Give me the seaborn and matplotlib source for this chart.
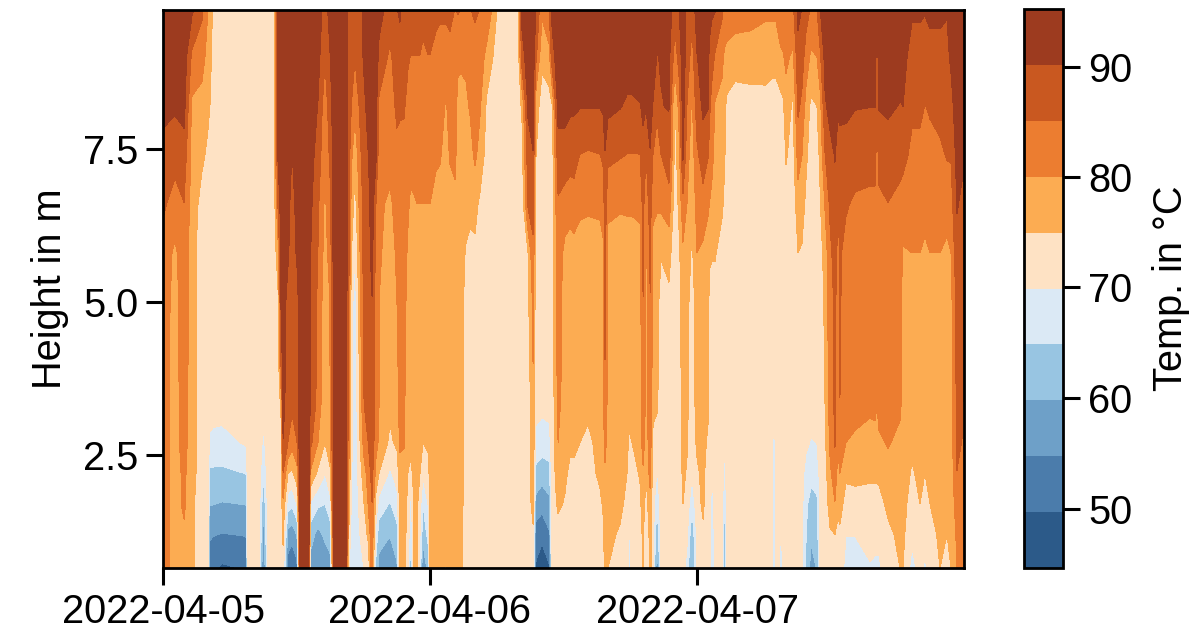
import numpy as np
import pandas as pd
import matplotlib
matplotlib.use('Agg')
import matplotlib.pyplot as plt
import matplotlib.dates as mdates
from matplotlib.colors import ListedColormap
import seaborn as sns

# sensor heights in m, top of the store first
heights = [9.77, 9.0, 8.2, 7.4, 6.6, 5.8, 5.0, 4.0, 3.3, 2.7, 2.2, 1.7, 1.2, 0.65]

# hours after 2022-04-05 00:00
hours = [
    0.00, 1.08, 1.89, 2.61, 3.51, 4.04, 4.22, 4.49, 5.30, 7.46, 7.60, 8.63, 9.03, 9.44, 9.98,
    10.34, 10.61, 10.79, 11.24, 11.60, 12.04, 12.31, 13.12, 13.30, 13.93, 14.56, 15.01, 15.37, 16.45, 16.72,
    16.94, 17.26, 17.71, 18.07, 18.43, 18.79, 19.15, 19.42, 20.40, 21.03, 21.30, 21.66, 22.02, 22.25, 22.56,
    22.83, 23.10, 23.37, 23.82, 24.00, 24.54, 24.90, 25.44, 25.80, 26.25, 26.52, 26.79, 27.24, 27.60, 28.05,
    28.50, 29.12, 29.66, 30.02, 31.91, 32.27, 32.81, 33.26, 33.53, 34.07, 34.70, 34.97, 35.51, 36.13, 36.58,
    36.94, 37.48, 38.20, 39.28, 39.55, 39.73, 40.00, 41.08, 41.71, 41.89, 42.16, 42.88, 43.15, 43.42, 43.78,
    44.05, 44.41, 44.76, 45.48, 46.02, 46.38, 46.74, 47.10, 47.55, 48.00, 48.54, 48.99, 49.12, 49.35, 49.62,
    50.25, 50.47, 50.70, 51.42, 52.76, 54.11, 54.74, 54.92, 55.10, 55.37, 55.55, 55.73, 56.00, 56.63, 57.08,
    57.44, 57.80, 58.24, 58.78, 59.06, 59.51, 59.96, 60.40, 60.67, 60.85, 61.39, 62.20, 63.55, 64.00, 64.18,
    64.36, 65.17, 66.25, 66.52, 67.33, 68.04, 68.49, 68.94, 69.84, 70.47, 70.83, 71.37, 71.82, 72.00,
]

# one list per time, same order as heights
temps_by_time = [
    [93, 93, 92, 88, 86, 83, 83, 82, 82, 82, 82, 82, 82, 82],
    [93, 93, 91, 87, 83, 79, 78, 78, 78, 78, 78, 78, 78, 78],
    [93, 93, 92, 88, 85, 83, 83, 83, 82, 82, 81, 81, 79, 78],
    [91, 84, 79, 78, 78, 77, 77, 77, 77, 77, 77, 76, 76, 76],
    [86, 82, 78, 76, 73, 72, 72, 72, 72, 72, 72, 72, 72, 72],
    [80, 78, 76, 74, 72, 72, 72, 72, 72, 72, 72, 72, 72, 72],
    [77, 76, 75, 73.5, 72, 72, 72, 72, 72, 69, 64, 60, 55.5, 51],
    [74.5, 74, 73, 72, 72, 72, 72, 72, 72, 68.5, 64, 60, 55, 50.5],
    [72, 72, 72, 72, 72, 72, 72, 72, 72, 68, 64, 59.5, 54.5, 49],
    [72, 72, 72, 72, 72, 72, 72, 72, 72, 70.5, 65, 60, 55, 50],
    [72, 72, 72, 72, 72, 72, 72, 72, 72, 72, 72, 72, 72, 72],
    [72, 72, 72, 72, 72, 72, 72, 72, 72, 72, 72, 72, 72, 72],
    [72, 72, 72, 72, 72, 72, 72, 72, 72, 69, 66, 61, 57, 53],
    [72, 72, 72, 72, 72, 72, 72, 72, 72, 72, 72, 72, 72, 72],
    [72, 72, 72, 72, 72, 72, 72, 72, 72, 72, 72, 72, 72, 72],
    [93, 93, 92.5, 91, 86, 78, 74, 72, 72, 72, 72, 72, 72, 72],
    [93, 93, 93, 93, 93, 92, 91, 86, 76, 73, 72, 72, 72, 72],
    [93, 93, 93, 93, 93, 93, 93, 93, 92, 90, 85, 79, 76, 73],
    [93, 93, 93, 93, 92, 91, 88, 87, 87, 85, 75, 67, 58, 52],
    [93, 93, 92, 90, 88, 87, 87, 87, 86, 82, 74, 66, 57, 49],
    [93, 93, 93, 93, 92, 91, 88, 87, 87, 85, 78, 70, 60, 53],
    [93, 93, 93, 93, 93, 93, 93, 93, 93, 93, 93, 93, 93, 92],
    [93, 93, 93, 93, 93, 93, 92, 92, 92, 92, 92, 91.5, 91, 90.5],
    [93, 93, 93, 92, 91, 90, 90, 90, 89, 86, 79, 69, 62, 57],
    [93, 92, 90, 88, 86, 85, 84, 84, 83, 80, 74, 66, 58, 56],
    [88, 85.5, 82, 81, 79, 78, 77, 77, 76, 75, 70, 65, 61, 56],
    [92, 90, 88, 86, 84, 82, 80, 80, 79, 78, 74, 68, 62, 58],
    [93, 93, 93, 93, 93, 93, 93, 93, 93, 93, 93, 93, 93, 91],
    [93, 93, 93, 93, 93, 93, 93, 93, 93, 93, 93, 93, 93, 91],
    [88, 88, 87, 87, 87, 86, 84, 83, 83, 81, 79, 77, 74, 70],
    [88, 87, 85, 81, 78, 75, 72, 72, 72, 72, 70, 69, 68, 67],
    [87.5, 85.2, 81.5, 76, 73, 69.5, 67, 66, 66, 66, 66, 66, 66, 66],
    [89, 88, 86, 84, 82, 80, 79, 77, 76, 75, 73, 72, 70, 68],
    [91, 91, 89, 88, 87, 87, 87, 86, 85, 82, 78, 75, 72, 70],
    [93, 93, 92, 90, 88, 88, 88, 88, 87, 85, 82, 80, 76, 71],
    [93, 93, 93, 93, 93, 92, 90, 90, 90, 88, 87, 85, 84, 83],
    [93, 93, 92, 91, 85, 83, 83, 82, 82, 82, 78, 73, 68, 63],
    [92, 89, 84, 82, 81, 81, 80, 80, 80, 79, 75, 68, 62, 58],
    [88, 84, 83, 82, 79, 77, 77, 77, 76, 74, 69, 64.5, 60, 57],
    [90, 88, 86, 84, 82, 81, 80, 79, 78, 76, 72, 68, 63, 59],
    [91, 88, 86, 83, 82, 82, 82, 82, 82, 81, 78, 77, 76, 76],
    [87, 86.5, 85.5, 84, 83, 83, 82, 81, 81, 81, 76, 76, 76, 76],
    [88, 85.5, 84, 83, 81, 79, 78, 77.5, 77, 76, 75, 74.5, 74, 74],
    [88, 85, 83, 82, 79, 78, 77, 77, 77, 76, 74, 68, 64, 62],
    [88, 85, 83, 82, 79.5, 78, 77, 77, 77, 76.5, 76, 75, 75, 75],
    [88, 85, 83, 82, 80, 78, 77, 77, 77, 77, 77, 76, 76, 76],
    [87, 85, 83, 82, 80, 78, 77, 77, 77, 76.5, 75, 72, 70, 68],
    [87, 84, 83, 82, 80, 78, 77, 77, 77, 75, 70.5, 65, 62, 54],
    [87, 85, 83, 82, 80, 78, 77, 77, 77, 76, 73, 70, 66, 62],
    [87, 85, 83, 82, 80, 78, 77, 77, 77, 77, 77, 77, 77, 77],
    [86, 84, 82, 81, 78, 77, 77, 77, 77, 77, 77, 77, 77, 77],
    [86, 83, 82, 80.5, 78, 77, 77, 77, 77, 77, 77, 77, 77, 77],
    [86, 83, 79.5, 78, 77, 77, 77, 77, 77, 77, 77, 77, 76, 74.5],
    [86, 84, 82, 80.5, 78, 77, 77, 77, 77, 77, 77, 77, 77, 77],
    [85, 83, 81.5, 81, 79, 77, 77, 77, 77, 77, 77, 77, 77, 77],
    [85.5, 81, 78.5, 78, 78, 77, 77, 77, 77, 77, 77, 77, 77, 77],
    [85, 80.5, 79, 78, 77, 77, 77, 77, 77, 77, 77, 77, 76, 76],
    [85, 81, 79, 78, 77, 74.5, 73, 72, 72, 72, 72, 72, 72, 72],
    [85, 82, 80.5, 78, 76, 74, 72.5, 72, 72, 72, 72, 72, 72, 72],
    [85.5, 84, 82, 81, 76.5, 74, 72, 72, 72, 72, 72, 72, 72, 72],
    [85, 83, 80.5, 78, 74, 72, 72, 72, 72, 72, 72, 72, 72, 72],
    [84, 78, 74, 73, 72, 72, 72, 72, 72, 72, 72, 72, 72, 72],
    [79, 75, 72, 72, 72, 72, 72, 72, 72, 72, 72, 72, 72, 72],
    [75, 73, 72, 72, 72, 72, 72, 72, 72, 72, 72, 72, 72, 72],
    [74, 72, 72, 72, 72, 72, 72, 72, 72, 72, 72, 72, 72, 72],
    [92, 88, 76, 73, 72, 72, 72, 72, 72, 72, 72, 72, 72, 72],
    [93, 93, 91, 88, 86, 75, 74, 72, 72, 72, 72, 72, 72, 72],
    [93, 93, 92, 90, 87, 84, 81, 80, 79, 79, 78, 77, 74, 73],
    [90, 86, 77, 75, 73, 72, 72, 72, 72, 68, 63.5, 58, 52, 49],
    [81, 76, 73, 72, 72, 72, 72, 72, 71, 67.5, 62, 56.5, 51, 46.5],
    [85, 78, 73, 72, 72, 72, 72, 72, 71.5, 68, 63, 58.5, 54, 49],
    [91.5, 88, 74.5, 72.5, 72, 72, 72, 72, 72, 72, 72, 72, 72, 72],
    [93, 93, 92, 88, 84.5, 83, 82, 82, 81, 80, 78, 76, 73, 72],
    [93, 93, 92, 88, 83, 78.5, 78, 78, 78, 77, 76, 74.5, 73, 73],
    [93, 93, 91, 87.5, 82, 78, 78, 78, 77, 76, 74, 72.5, 72, 72],
    [93, 93, 91, 87, 83, 78, 78, 78, 77, 76, 74, 72, 72, 72],
    [93, 93, 90.5, 85, 81, 78, 78, 78, 77, 75, 73, 72.5, 72, 72],
    [93, 93, 90.5, 84.5, 80.5, 78.5, 78, 77, 76, 74, 73, 72.5, 72, 71],
    [93, 93, 90.5, 85, 81, 78, 78, 78, 77, 76.5, 76, 74, 72.5, 72],
    [93, 93, 91, 86, 82, 79, 78, 78, 78, 77, 77, 75.5, 74, 73],
    [93, 93, 92, 90, 88, 87, 87, 85, 84, 82, 79, 78, 77, 76],
    [93, 93, 91.5, 86.5, 81, 78.5, 78, 78, 78, 77.5, 77, 76.5, 76, 75],
    [93, 93, 90.5, 85.5, 80.5, 78, 78, 78, 77.5, 77, 77, 76, 74.5, 73],
    [93, 92.5, 89.5, 85, 80.5, 78.5, 78, 77.5, 77, 76, 75, 74, 73, 73],
    [93, 92.5, 89.5, 85, 80.5, 78.5, 78, 77, 76, 74.5, 73, 71, 69, 68],
    [93, 92.5, 89.5, 85, 80.5, 78.5, 78, 77, 76.5, 75, 73, 72.5, 72, 72],
    [93, 92.5, 90, 85, 81, 78.5, 78, 77, 77, 76.5, 75.5, 74, 73, 72.5],
    [93, 93, 91, 89, 87, 86, 85, 85, 85, 83, 79, 77.5, 76, 75.5],
    [93, 93, 90.5, 85, 81, 78.5, 78, 78, 78, 77, 75, 73, 69.5, 68],
    [93, 93, 91.5, 90, 88, 85.5, 85, 85, 84, 83, 82, 78, 77, 77],
    [93, 92, 90, 85, 81, 78.5, 78, 77.5, 76, 74, 73, 72, 72, 72],
    [93, 90, 86, 83, 80.5, 78, 77.5, 77, 75.5, 73, 69.5, 65.5, 60, 55],
    [93, 90.5, 90, 85, 81, 75.5, 72, 72, 72, 72, 72, 72, 72, 72],
    [93, 91.5, 90.5, 88, 83, 76.5, 74, 72, 72, 72, 72, 72, 72, 72],
    [87, 82.5, 74, 73, 72, 72, 72, 72, 72, 72, 72, 72, 72, 72],
    [90, 87, 82, 78, 76, 74, 72, 72, 72, 72, 72, 72, 72, 72],
    [93, 93, 92.5, 91, 83.5, 79, 78, 78, 77.5, 77, 76, 75, 73, 72],
    [89, 88, 85, 82, 80, 78.5, 77, 76.5, 76, 75.5, 74.5, 73, 71, 68],
    [86.5, 83, 79, 77.5, 76, 74, 72, 72, 72, 71.5, 70.5, 66, 61, 58],
    [93, 90, 88, 84, 82, 80, 78, 77.5, 77, 76, 74, 73, 71, 70],
    [93, 92, 91, 88, 83, 79, 78, 78, 77.5, 77, 76.5, 76, 74, 72],
    [93, 92, 90.5, 85.5, 80.5, 78.5, 78, 77, 76, 74, 72, 72, 72, 72],
    [92, 89, 86, 84, 80, 76, 73, 72, 72, 72, 72, 72, 72, 72],
    [91, 87, 83, 81, 79, 75.5, 72.5, 72, 72, 72, 70.5, 67, 65.5, 63],
    [90.5, 84.5, 79.5, 79, 78, 75.5, 72.5, 72, 72, 72, 72, 72, 72, 72],
    [86, 81.5, 78, 77.5, 76, 72.5, 72, 72, 72, 72, 72, 72, 72, 72],
    [84, 79, 76, 75.5, 74, 72.5, 72, 72, 72, 71, 68, 65, 61.5, 58],
    [84, 78, 74, 73, 72, 72, 72, 72, 72, 72, 72, 72, 72, 72],
    [83, 77, 73, 72, 72, 72, 72, 72, 72, 72, 72, 72, 72, 72],
    [82, 77.5, 73, 72, 72, 72, 72, 72, 72, 72, 72, 72, 72, 72],
    [81, 77, 73.5, 72, 72, 72, 72, 72, 72, 72, 72, 72, 72, 72],
    [81, 77, 72.5, 72, 72, 72, 72, 72, 72, 72, 72, 72, 72, 72],
    [81, 77, 72.5, 72, 72, 72, 72, 72, 71, 67, 65, 63, 61, 59],
    [81, 77, 72.5, 72, 72, 72, 72, 72, 72, 72, 72, 72, 72, 72],
    [83, 78, 73, 72, 72, 72, 72, 72, 72, 72, 72, 72, 72, 72],
    [84, 79, 73.5, 72, 72, 72, 72, 72, 71, 69.5, 69, 68.5, 68, 67.5],
    [84, 79.5, 74, 72, 72, 72, 72, 72, 72, 72, 72, 72, 72, 72],
    [85, 81, 78, 75.5, 73, 72, 72, 72, 72, 72, 72, 72, 72, 72],
    [84, 79, 74, 73, 72, 72, 72, 72, 72, 72, 72, 72, 72, 72],
    [91.5, 88.5, 86, 82, 78, 75, 72, 72, 72, 72, 72, 72, 72, 71],
    [90, 87, 84, 80, 77, 74.5, 72, 72, 72, 72, 71.5, 71, 70.5, 70],
    [87, 83, 78, 76, 74, 73, 72, 72, 72, 71, 68, 66, 65, 64.5],
    [84.5, 79, 74, 72.5, 72, 72, 72, 72, 72, 69.5, 66.5, 63, 60.5, 58],
    [85, 80, 75, 73, 72, 72, 72, 72, 72, 70, 67, 64, 62, 60],
    [90, 84, 78, 76, 74.5, 73, 72, 72, 72, 72, 71.5, 71, 71, 70.5],
    [93, 92, 89.5, 85, 80.5, 77, 76, 75.5, 75, 74, 73, 72.5, 72, 72],
    [93, 93, 92, 88.5, 86, 84, 83, 83, 82, 81, 79, 77, 74.5, 73],
    [93, 93, 92, 90.5, 88.5, 87, 86, 86, 86, 85.5, 83, 79.8, 75, 73],
    [93, 93, 91, 88, 85, 84, 83, 83, 82, 81, 78, 76, 74, 73],
    [93, 92.5, 91, 89, 87, 85.5, 85.5, 85.5, 85, 84, 80, 77, 74, 73],
    [93, 93, 92, 87, 85.5, 84, 83, 82, 81, 80, 76, 73, 70, 68],
    [93, 93, 90.5, 87, 84.5, 83, 83, 82, 81, 79.5, 76.5, 73, 70, 68],
    [93, 93, 90.3, 87, 84, 82, 82, 81.5, 81, 78, 76, 73, 71.5, 69.5],
    [93, 93, 90.3, 87, 84, 82, 82, 82, 81, 78.5, 76, 73, 71.5, 69],
    [90.8, 87.5, 84.5, 83, 81, 79, 79, 79.5, 80, 78, 76, 73, 71.5, 69],
    [93, 93, 90.5, 87, 84, 82, 82, 82, 82, 79, 76, 73.5, 71.5, 69],
    [93, 93, 91, 88, 85, 83, 82, 82, 81.5, 80.5, 78, 76, 74, 73],
    [93, 92, 90, 87, 83.5, 82, 82, 82, 81, 78.5, 77.5, 77, 76, 75],
    [93, 92, 90.2, 86.5, 83, 79.5, 78, 78, 78, 77.5, 77, 76.5, 76, 75],
    [91, 88, 86, 84, 82, 80, 78, 77.5, 77, 76, 74.5, 73, 71, 68],
    [91, 88, 86, 84, 82, 80, 78, 78, 77.5, 77, 76, 75, 73, 72],
    [90.5, 88, 85, 84, 82, 79, 78, 77.5, 77, 76, 75, 73, 71, 69],
    [91, 89, 85.5, 84, 82, 80, 78.5, 78, 78, 77.5, 76.5, 75, 73, 72],
    [91, 89, 87, 84, 82, 80, 78, 78, 78, 78, 77.5, 77, 76, 75],
    [90.5, 89, 88, 85.5, 82, 79, 78, 78, 77.5, 77.5, 77, 76, 75, 74],
    [91.5, 91, 88.5, 85.5, 83, 80, 78.5, 78, 78, 77.5, 77, 76.5, 76, 75],
    [93, 93, 93, 92, 90.5, 89, 87, 87, 86, 86, 85, 83, 81, 80],
    [93, 93, 92, 91, 89.5, 87, 87, 87, 86, 85, 84, 83, 82, 81],
    [93, 93, 93, 91, 89.5, 88, 86, 85, 84, 84, 83, 82, 81, 80],
]

levels = [44.6, 49.7, 54.7, 59.8, 64.9, 69.9, 75.0, 80.0, 85.1, 90.2, 95.2]
band_colors = ['#2c5a89', '#4b7cab', '#6ea0c8', '#98c5e2', '#dbe9f5',
               '#fee2c4', '#fcac52', '#ec7d30', '#c95820', '#9d3b1f']
date_ticks = ['2022-04-05', '2022-04-06', '2022-04-07']
cbar_ticks = [50, 60, 70, 80, 90]

sns.set_theme(style='ticks')
plt.rcParams['font.family'] = ['Liberation Sans', 'DejaVu Sans']
plt.rcParams['font.size'] = 14.3
plt.rcParams['axes.labelcolor'] = 'black'

temps = np.array(temps_by_time).T
times = pd.Timestamp('2022-04-05') + pd.to_timedelta(hours, unit='h')
x = mdates.date2num(times)

fig = plt.figure(figsize=(6.02, 3.155), dpi=200)
ax = fig.add_axes([163 / 1204, 1 - 568 / 631, 801 / 1204, 558 / 631])
cax = fig.add_axes([1024 / 1204, 1 - 568 / 631, 39 / 1204, 559 / 631])

cmap = ListedColormap(sns.color_palette(band_colors))
cs = ax.contourf(x, heights, temps, levels=levels, cmap=cmap)

ax.set_xlim(mdates.date2num(pd.Timestamp('2022-04-05')), mdates.date2num(pd.Timestamp('2022-04-08')))
ax.set_ylim(0.65, 9.77)
ax.set_xticks(mdates.date2num(pd.to_datetime(date_ticks)))
ax.xaxis.set_major_formatter(mdates.DateFormatter('%Y-%m-%d'))
ax.set_yticks([2.5, 5.0, 7.5])
ax.set_ylabel('Height in m', fontsize=14.3, labelpad=5)

cbar = fig.colorbar(cs, cax=cax, ticks=cbar_ticks)
cbar.set_label('Temp. in °C', fontsize=14.3, labelpad=7, color='black')
cbar.outline.set_edgecolor('black')
cbar.outline.set_linewidth(1.0)

for a in [ax, cax]:
    a.tick_params(length=6, width=1.1, color='black', labelsize=14.3, labelcolor='black', pad=3)
    for spine in a.spines.values():
        spine.set_edgecolor('black')
        spine.set_linewidth(1.0)

fig.savefig('out.png', dpi=200)
plt.close(fig)
